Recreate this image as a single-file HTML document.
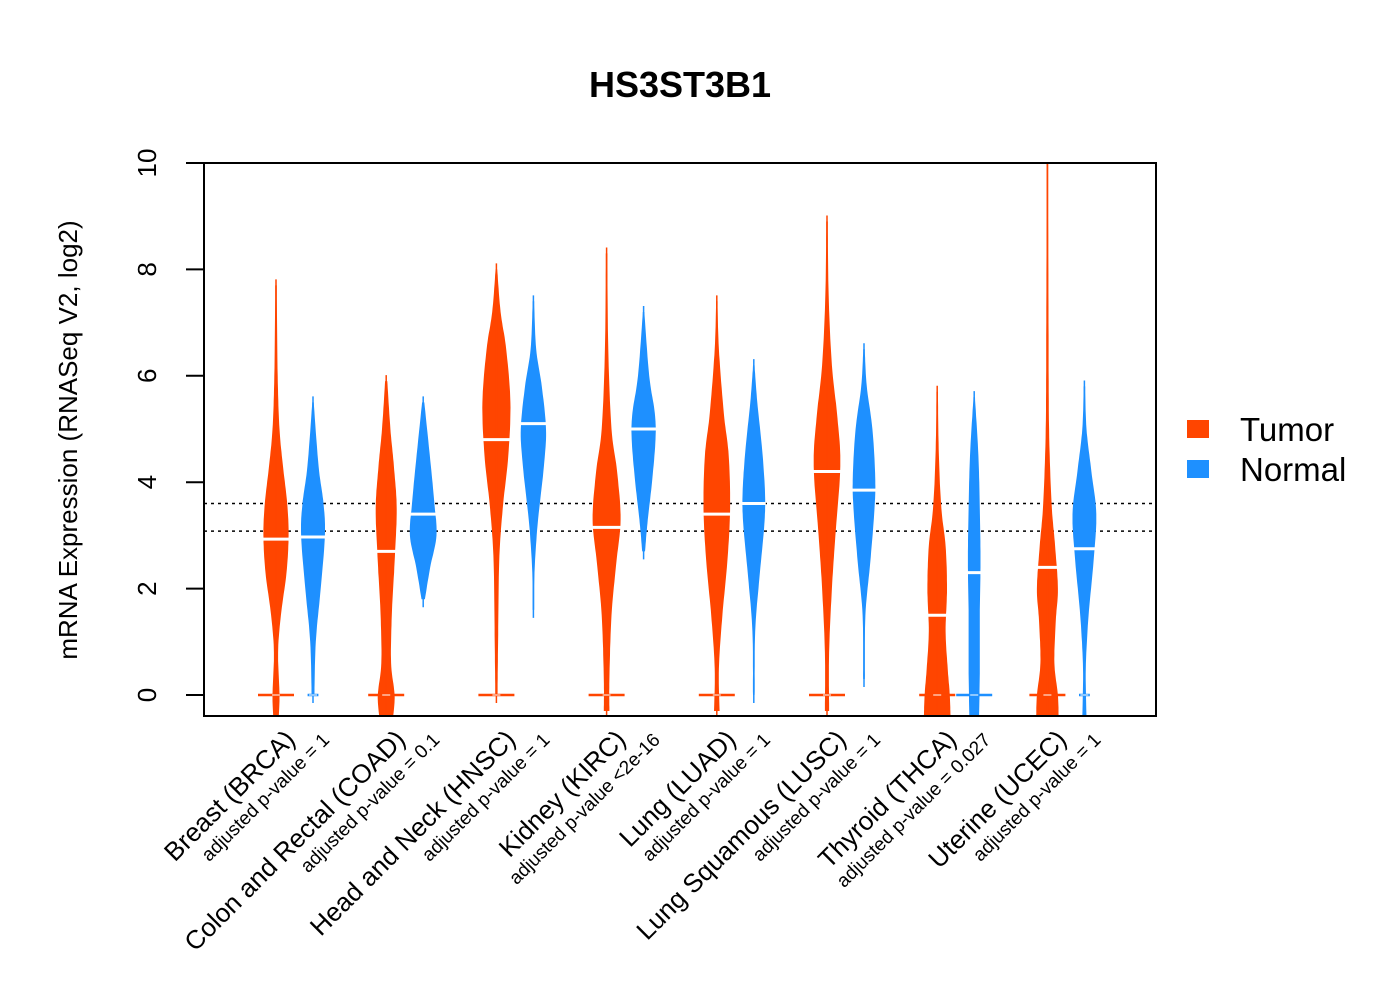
<!DOCTYPE html>
<html><head><meta charset="utf-8"><style>
body{margin:0;background:#fff}
svg{display:block;font-family:"Liberation Sans",Arial,sans-serif}
</style></head><body>
<svg id="chart" width="1400" height="1000">
<text x="680" y="97" text-anchor="middle" font-size="36" font-weight="bold">HS3ST3B1</text>
<text transform="translate(77,440) rotate(-90)" text-anchor="middle" font-size="26">mRNA Expression (RNASeq V2, log2)</text>
<defs><clipPath id="pc"><rect x="204" y="163" width="952" height="553"/></clipPath></defs>
<g id="violins" clip-path="url(#pc)"></g>
<g id="axes"></g>
<rect x="204" y="163" width="952" height="553" fill="none" stroke="#000" stroke-width="2"/>
<g>
<rect x="1187" y="420" width="22" height="18" fill="#FF4500"/>
<text x="1240" y="441" font-size="33">Tumor</text>
<rect x="1187" y="460" width="22" height="18" fill="#1E90FF"/>
<text x="1240" y="481" font-size="33">Normal</text>
</g>
</svg>
<script>
const categories=["Breast (BRCA)","Colon and Rectal (COAD)","Head and Neck (HNSC)","Kidney (KIRC)","Lung (LUAD)","Lung Squamous (LUSC)","Thyroid (THCA)","Uterine (UCEC)"];
const pvalues=["adjusted p-value = 1","adjusted p-value = 0.1","adjusted p-value = 1","adjusted p-value <2e-16","adjusted p-value = 1","adjusted p-value = 1","adjusted p-value = 0.027","adjusted p-value = 1"];
const yTicks=[0,2,4,6,8,10];
const refLines=[3.6,3.08];
const tumorMedians=[2.93,2.7,4.8,3.15,3.4,4.2,1.5,2.4];
const normalMedians=[2.97,3.4,5.1,5.0,3.6,3.85,2.3,2.75];
const tumorValues=[
[-0.4,0,0.8,1.5,2.3,3,3.6,4.3,5,6,7.7],
[-0.4,0,0.6,1.5,2.5,3.5,4.3,5,5.9],
[0,1,2.5,3.5,4.5,5.5,6.5,7.2,8],
[-0.3,0.3,1.5,2.5,3.3,4.2,5,6.5,8.3],
[-0.3,0.5,1.5,2.5,3.5,4.5,5.3,6.5,7.4],
[-0.3,0.8,2,3,4.3,5.2,6.2,7.5,8.9],
[-0.4,0,0.5,1.2,2,2.8,3.5,4.5,5.7],
[-0.4,0,0.6,1.4,2,2.8,3.6,5,7,10]];
const tumorDens=[
[0.2,0.25,0.15,0.35,0.75,0.9,0.8,0.5,0.25,0.12,0.05],
[0.5,0.6,0.35,0.4,0.6,0.75,0.55,0.3,0.08],
[0.08,0.12,0.2,0.45,0.85,1.0,0.7,0.3,0.06],
[0.2,0.2,0.35,0.7,1.0,0.75,0.35,0.12,0.05],
[0.2,0.15,0.4,0.75,0.95,0.85,0.5,0.15,0.05],
[0.15,0.15,0.35,0.6,0.95,0.75,0.35,0.12,0.05],
[0.95,0.9,0.75,0.6,0.7,0.6,0.3,0.12,0.05],
[0.8,0.75,0.5,0.6,0.75,0.55,0.3,0.12,0.08,0.05]];
const normalValues=[
[0,1,2,3,3.6,4.3,5.5],
[1.8,2.4,3,3.6,4.3,5.5],
[1.6,2.3,3.2,4.3,5,5.8,6.5,7.4],
[2.7,3.3,4,4.8,5.3,6,7.2],
[0,1.2,2.2,3.2,3.8,4.6,5.5,6.2],
[0.3,1.5,2.5,3.5,4.1,5,5.8,6.5],
[-0.4,0.5,1.5,2.5,3.5,4.5,5.6],
[-0.4,0.5,1.5,2.5,3.4,4.2,5,5.8]];
const normalDens=[
[0.1,0.2,0.55,0.85,0.75,0.4,0.05],
[0.12,0.5,0.95,0.8,0.55,0.08],
[0.06,0.08,0.3,0.75,0.9,0.6,0.2,0.05],
[0.1,0.3,0.6,0.85,0.8,0.4,0.05],
[0.06,0.1,0.4,0.75,0.8,0.6,0.25,0.05],
[0.06,0.1,0.45,0.75,0.8,0.6,0.2,0.05],
[0.35,0.4,0.4,0.45,0.4,0.3,0.05],
[0.15,0.1,0.3,0.65,0.85,0.5,0.15,0.05]];
const tumorHasZeros=[1,1,1,1,1,1,1,1];
const normalHasZeros=[0.3,0,0,0,0,0,1,0.3];

const NS="http://www.w3.org/2000/svg";
const y0=695, yUnit=53.2, xStart=276, pitch=110.2, pairGap=37, maxHW=14;
function yScale(v){return y0-yUnit*v;}
function xTumor(i){return xStart+pitch*i;}
function xNormal(i){return xStart+pitch*i+pairGap;}
function mk(tag,attrs,parent){const e=document.createElementNS(NS,tag);for(const k in attrs)e.setAttribute(k,attrs[k]);parent.appendChild(e);return e;}
const vg=document.getElementById('violins'), ag=document.getElementById('axes'), svg=document.getElementById('chart');

function violinPath(cx,vals,dens){
  const pts=vals.map((v,i)=>[dens[i]*maxHW,yScale(v)]);
  const s=[];
  for(let i=0;i<pts.length-1;i++){
    const p0=pts[Math.max(0,i-1)],p1=pts[i],p2=pts[i+1],p3=pts[Math.min(pts.length-1,i+2)];
    for(let t=0;t<1;t+=0.1){
      const t2=t*t,t3=t2*t;
      const f=(a,b,c,d)=>0.5*((2*b)+(-a+c)*t+(2*a-5*b+4*c-d)*t2+(-a+3*b-3*c+d)*t3);
      s.push([Math.max(0.8,f(p0[0],p1[0],p2[0],p3[0])),f(p0[1],p1[1],p2[1],p3[1])]);
    }
  }
  s.push(pts[pts.length-1]);
  let d='M'+(cx+s[0][0])+','+s[0][1];
  s.forEach(p=>{d+='L'+(cx+p[0]).toFixed(1)+','+p[1].toFixed(1);});
  for(let i=s.length-1;i>=0;i--)d+='L'+(cx-s[i][0]).toFixed(1)+','+s[i][1].toFixed(1);
  return d+'Z';
}
function drawViolin(cx,vals,dens,med,zeros,color,name){
  const p=mk('path',{d:violinPath(cx,vals,dens),fill:color},vg);
  
  
  const lo=vals[0],hi=vals[vals.length-1];
  const w=mk('line',{x1:cx,x2:cx,y1:yScale(lo)+8,y2:yScale(hi)-6,stroke:color,'stroke-width':1.5},vg);
  
  
  if(zeros>0){
    const z=mk('line',{x1:cx-18*zeros,x2:cx+18*zeros,y1:yScale(0),y2:yScale(0),stroke:color,'stroke-width':2.5},vg);
    
    
    mk('line',{x1:cx-4,x2:cx+4,y1:yScale(0),y2:yScale(0),stroke:'#fff','stroke-width':1},vg);
  }
  let hw=2;
  for(let i=0;i<vals.length-1;i++){if(med>=vals[i]&&med<=vals[i+1]){const t=(med-vals[i])/(vals[i+1]-vals[i]);hw=(dens[i]+(dens[i+1]-dens[i])*t)*maxHW;}}
  const m=mk('line',{x1:cx-hw-1,x2:cx+hw+1,y1:yScale(med),y2:yScale(med),stroke:'#fff','stroke-width':3},vg);
  
  
}
refLines.forEach((v,i)=>{
  const l=mk('line',{x1:204,x2:1156,y1:yScale(v),y2:yScale(v),stroke:'#000','stroke-width':1.5,'stroke-dasharray':'3,4'},vg);
  
  
});
categories.forEach((c,i)=>{
  drawViolin(xTumor(i),tumorValues[i],tumorDens[i],tumorMedians[i],tumorHasZeros[i],'#FF4500','violin-tumor-'+(i+1));
  drawViolin(xNormal(i),normalValues[i],normalDens[i],normalMedians[i],normalHasZeros[i],'#1E90FF','violin-normal-'+(i+1));
  const gc=(xTumor(i)+xNormal(i))/2;
  const t=mk('text',{transform:`translate(${gc+2},741) rotate(-45)`,'text-anchor':'end','font-size':26},svg);
  t.textContent=c;
  
  
  const p=mk('text',{transform:`translate(${gc+36},741) rotate(-45)`,'text-anchor':'end','font-size':19},svg);
  p.textContent=pvalues[i];
  
  
});
yTicks.forEach(v=>{
  const l=mk('line',{x1:186,x2:204,y1:yScale(v),y2:yScale(v),stroke:'#000','stroke-width':2},ag);
  
  
  const t=mk('text',{transform:`translate(156,${yScale(v)}) rotate(-90)`,'text-anchor':'middle','font-size':26},ag);
  t.textContent=v;
  
  
});
mk('line',{x1:204,x2:204,y1:yScale(0),y2:yScale(10),stroke:'#000','stroke-width':2},ag);
</script>
</body></html>
